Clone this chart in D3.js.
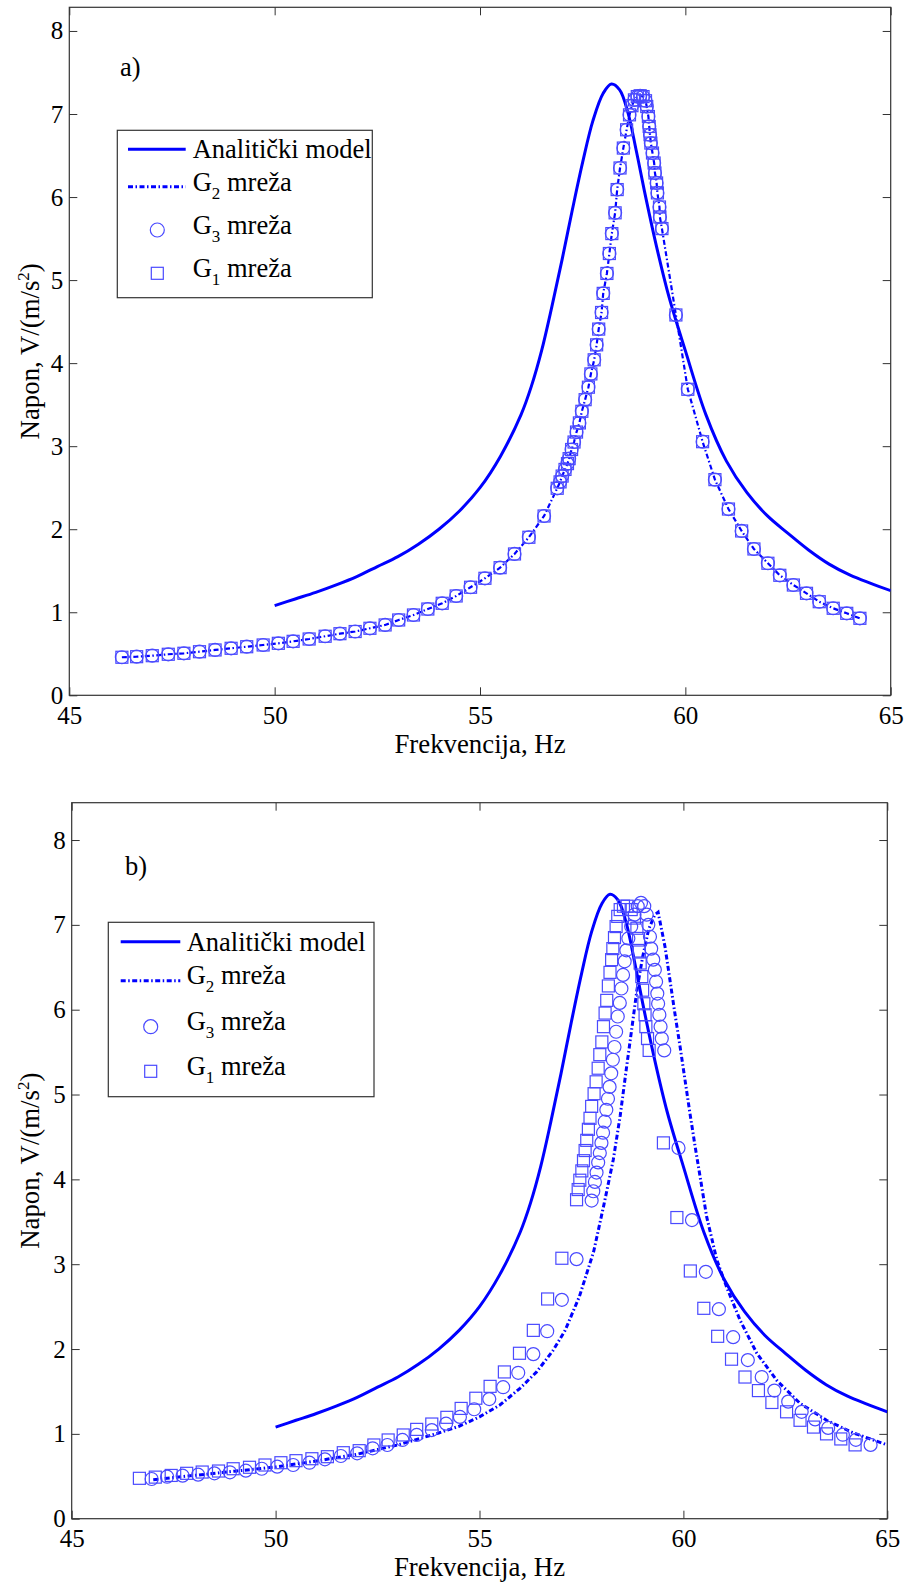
<!DOCTYPE html>
<html><head><meta charset="utf-8">
<script src="https://cdn.jsdelivr.net/npm/d3@7/dist/d3.min.js"></script>
<style>
body{margin:0;background:#fff}
svg{display:block}
text{font-family:"Liberation Serif","Times New Roman",serif;fill:#000}
</style>
</head><body>
<svg id="chart" width="906" height="1587"></svg>
<script>
// ---------- data ----------
const xTickValues = [45, 50, 55, 60, 65];
const yTickValues = [0, 1, 2, 3, 4, 5, 6, 7, 8];
const xLabel = "Frekvencija, Hz";
const panelLabels = ["a)", "b)"];
const legendNames = ["Analitički model", "G2 mreža", "G3 mreža", "G1 mreža"];

// Analytical model (same in both panels)
const analyticF = [50,50.5,51,51.5,52,52.5,53,53.5,54,54.5,55,55.5,56,56.25,56.5,56.75,57,57.25,57.5,57.75,58,58.2,58.4,58.6,58.8,59,59.3,59.6,60,60.5,61,61.5,62,62.5,63,63.5,64,64.5,65];
const analyticV = [1.08,1.16,1.24,1.33,1.43,1.55,1.67,1.82,2.00,2.22,2.50,2.88,3.38,3.72,4.15,4.68,5.25,5.85,6.42,6.92,7.25,7.36,7.29,7.02,6.57,6.08,5.40,4.80,4.15,3.38,2.82,2.44,2.16,1.95,1.75,1.58,1.45,1.35,1.26];

// Panel a: G1, G2, G3 meshes coincide
const meshA_F = [46.28,46.64,47.02,47.41,47.79,48.17,48.55,48.94,49.32,49.72,50.09,50.45,50.84,51.23,51.59,51.96,52.32,52.69,53.02,53.38,53.73,54.08,54.42,54.77,55.12,55.49,55.84,56.19,56.56,56.88,56.95,57.00,57.07,57.13,57.17,57.23,57.29,57.35,57.42,57.48,57.56,57.64,57.70,57.78,57.84,57.89,57.96,58.00,58.09,58.15,58.21,58.29,58.34,58.41,58.49,58.57,58.64,58.70,58.76,58.83,58.90,58.97,59.03,59.06,59.10,59.12,59.14,59.16,59.20,59.24,59.26,59.30,59.32,59.37,59.38,59.43,59.77,60.06,60.42,60.72,61.05,61.37,61.67,62.01,62.30,62.63,62.95,63.26,63.60,63.93,64.25];
const meshA_V = [0.458,0.465,0.477,0.494,0.506,0.525,0.546,0.566,0.585,0.606,0.626,0.650,0.678,0.711,0.742,0.768,0.807,0.847,0.907,0.967,1.039,1.108,1.196,1.301,1.409,1.537,1.702,1.903,2.159,2.493,2.57,2.64,2.72,2.79,2.85,2.96,3.05,3.17,3.28,3.42,3.56,3.71,3.87,4.04,4.22,4.41,4.61,4.84,5.08,5.32,5.56,5.81,6.09,6.35,6.59,6.81,6.99,7.10,7.17,7.21,7.22,7.21,7.16,7.09,6.97,6.85,6.75,6.65,6.53,6.41,6.29,6.17,6.05,5.88,5.76,5.62,4.58,3.685,3.054,2.597,2.243,1.979,1.762,1.590,1.445,1.328,1.228,1.127,1.048,0.987,0.927];

// Panel b: G2 mesh (line)
const g2B_F = [47.0,48,49,50,51,52,53,53.5,54,54.5,55,55.5,56,56.4,56.8,57.1,57.45,57.8,58.05,58.28,58.45,58.6,58.73,58.86,59.0,59.15,59.3,59.38,59.55,59.67,59.79,59.92,60.04,60.16,60.29,60.41,60.57,60.82,61.06,61.39,61.8,62.29,62.86,63.51,64.17,65];
const g2B_V = [0.46,0.51,0.56,0.61,0.68,0.76,0.87,0.94,1.01,1.09,1.20,1.34,1.54,1.73,1.98,2.22,2.62,3.15,3.70,4.23,4.75,5.30,5.76,6.23,6.62,6.95,7.12,7.15,6.74,6.35,5.96,5.56,5.17,4.78,4.38,4.03,3.56,3.05,2.73,2.34,1.95,1.63,1.36,1.16,1.01,0.87];

// Panel b: G3 mesh (circles)
const g3B_F = [46.96,47.34,47.72,48.10,48.50,48.88,49.27,49.66,50.04,50.43,50.83,51.21,51.60,52.00,52.38,52.74,53.11,53.46,53.83,54.18,54.52,54.87,55.24,55.58,55.95,56.32,56.66,57.02,57.38,57.75,57.79,57.83,57.87,57.91,57.95,57.99,58.03,58.07,58.11,58.15,58.19,58.23,58.27,58.31,58.35,58.39,58.44,58.48,58.52,58.56,58.60,58.65,58.72,58.80,58.88,58.96,59.04,59.10,59.14,59.18,59.21,59.26,59.30,59.33,59.36,59.38,59.41,59.44,59.47,59.53,59.88,60.21,60.55,60.87,61.22,61.58,61.92,62.23,62.57,62.90,63.23,63.55,63.91,64.23,64.59];
const g3B_V = [0.468,0.495,0.507,0.519,0.535,0.547,0.566,0.589,0.613,0.633,0.660,0.700,0.739,0.771,0.830,0.869,0.928,0.987,1.045,1.12,1.20,1.29,1.41,1.55,1.72,1.94,2.21,2.58,3.06,3.75,3.86,3.97,4.08,4.20,4.31,4.43,4.55,4.68,4.82,4.95,5.09,5.25,5.41,5.56,5.74,5.92,6.08,6.25,6.41,6.57,6.70,6.84,6.98,7.12,7.22,7.26,7.22,7.12,7.00,6.86,6.72,6.59,6.47,6.33,6.19,6.07,5.94,5.80,5.66,5.52,4.37,3.52,2.91,2.47,2.14,1.87,1.67,1.51,1.38,1.26,1.17,1.07,0.99,0.93,0.87];

// Panel b: G1 mesh (squares)
const g1B_F = [46.66,47.05,47.44,47.82,48.20,48.60,48.96,49.36,49.74,50.13,50.50,50.89,51.27,51.66,52.05,52.41,52.76,53.13,53.46,53.83,54.20,54.55,54.91,55.26,55.61,55.98,56.32,56.67,57.02,57.38,57.42,57.46,57.51,57.55,57.59,57.63,57.67,57.71,57.75,57.81,57.86,57.91,57.95,58.00,58.04,58.08,58.12,58.16,58.20,58.24,58.27,58.31,58.35,58.39,58.45,58.53,58.62,58.72,58.80,58.86,58.90,58.92,58.94,58.98,59.00,59.03,59.06,59.08,59.12,59.16,59.51,59.84,60.17,60.50,60.84,61.18,61.51,61.84,62.17,62.53,62.86,63.19,63.51,63.86,64.21];
const g1B_V = [0.476,0.49,0.51,0.535,0.55,0.562,0.589,0.606,0.633,0.66,0.684,0.707,0.731,0.778,0.802,0.869,0.928,0.987,1.053,1.116,1.195,1.30,1.42,1.56,1.73,1.95,2.22,2.59,3.07,3.76,3.88,3.99,4.10,4.22,4.34,4.46,4.59,4.72,4.86,5.01,5.15,5.31,5.47,5.62,5.80,5.96,6.11,6.28,6.44,6.59,6.72,6.85,6.98,7.10,7.18,7.22,7.22,7.18,7.08,6.96,6.84,6.68,6.55,6.39,6.23,6.07,5.94,5.80,5.66,5.52,4.43,3.55,2.92,2.48,2.15,1.88,1.67,1.51,1.37,1.26,1.16,1.08,1.00,0.94,0.87];

// ---------- drawing ----------
const svg = d3.select("#chart");
const BLUE = "#0000ff";
const MARK = "#4a4aff";
const AXIS = "#333";
const FONT = '"Liberation Serif", "Times New Roman", serif';
const zip = (f, v) => f.map((d, i) => ({f: d, v: v[i]}));

const panels = [
  {left: 69.3, right: 890.7, top: 7.3, bottom: 695.3, yMax: 8.285,
   label: panelLabels[0], labelPos: [120, 76],
   legend: {box: [117.3, 130.3, 372.3, 297.7], lineX: [128, 185.7], markX: 157.3, textX: 192.7,
            lineY: [149.3, 186.7, 230, 273.3], baseY: [157.7, 190.7, 234, 277.3]},
   analytic: zip(analyticF, analyticV), g2: zip(meshA_F, meshA_V),
   g3: zip(meshA_F, meshA_V), g1: zip(meshA_F, meshA_V), g2w: 2.2},
  {left: 71.7, right: 887.3, top: 802.7, bottom: 1518.7, yMax: 8.44,
   label: panelLabels[1], labelPos: [125, 875],
   legend: {box: [108.3, 922.3, 374, 1096.7], lineX: [120.7, 180.3], markX: 150.7, textX: 186.7,
            lineY: [941.7, 980.7, 1026.7, 1071.3], baseY: [951, 984, 1030, 1075]},
   analytic: zip(analyticF, analyticV), g2: zip(g2B_F, g2B_V),
   g3: zip(g3B_F, g3B_V), g1: zip(g1B_F, g1B_V), g2w: 3}
];

function labelWithSub(sel, name, subSize) {
  sel.append("tspan").text(name[0]);
  sel.append("tspan").attr("dy", 8).attr("font-size", subSize).text(name[1]);
  sel.append("tspan").attr("dy", -8).text(name.slice(2));
}

panels.forEach((p, pi) => {
  const x = d3.scaleLinear().domain([45, 65]).range([p.left, p.right]);
  const y = d3.scaleLinear().domain([0, p.yMax]).range([p.bottom, p.top]);
  const g = svg.append("g");
  const clipId = "clip" + pi;
  g.append("clipPath").attr("id", clipId).append("rect")
    .attr("x", p.left).attr("y", p.top).attr("width", p.right - p.left).attr("height", p.bottom - p.top);

  const ax = (axis, tr) => {
    const a = g.append("g").attr("transform", tr).call(axis);
    a.select(".domain").remove();
    a.selectAll("line").attr("stroke", AXIS).attr("stroke-width", 1);
    a.selectAll("text").attr("font-size", 25).attr("font-family", FONT).attr("fill", "#000");
    return a;
  };
  ax(d3.axisBottom(x).tickValues(xTickValues).tickSize(-8).tickPadding(11).tickFormat(d3.format("d")), `translate(0,${p.bottom})`);
  ax(d3.axisTop(x).tickValues(xTickValues).tickSize(-8).tickFormat(""), `translate(0,${p.top})`);
  ax(d3.axisLeft(y).tickValues(yTickValues).tickSize(-8).tickPadding(6).tickFormat(d3.format("d")), `translate(${p.left},0)`);
  ax(d3.axisRight(y).tickValues(yTickValues).tickSize(-8).tickFormat(""), `translate(${p.right},0)`);
  g.append("rect").attr("x", p.left).attr("y", p.top).attr("width", p.right - p.left)
    .attr("height", p.bottom - p.top).attr("fill", "none").attr("stroke", AXIS).attr("stroke-width", 1.2);

  g.append("text").attr("x", (p.left + p.right) / 2).attr("y", p.bottom + 57.5)
    .attr("text-anchor", "middle").attr("font-size", 26.8).text(xLabel);
  const yl = g.append("text").attr("transform", `translate(38.5,${(p.top + p.bottom) / 2}) rotate(-90)`)
    .attr("text-anchor", "middle").attr("font-size", 26.8);
  yl.append("tspan").text("Napon, V/(m/s");
  yl.append("tspan").attr("dy", -10).attr("font-size", 17).text("2");
  yl.append("tspan").attr("dy", 10).text(")");

  g.append("text").attr("x", p.labelPos[0]).attr("y", p.labelPos[1]).attr("font-size", 26.5).text(p.label);

  const data = g.append("g").attr("clip-path", `url(#${clipId})`);

  data.append("path").datum(p.analytic).attr("fill", "none").attr("stroke", BLUE).attr("stroke-width", 3)
    .attr("d", d3.line().x(d => x(d.f)).y(d => y(d.v)).curve(d3.curveCatmullRom.alpha(0.5)));
  data.append("path").datum(p.g2).attr("fill", "none").attr("stroke", BLUE).attr("stroke-width", p.g2w)
    .attr("stroke-dasharray", "5,2.5,1.5,2.5")
    .attr("d", d3.line().x(d => x(d.f)).y(d => y(d.v)).curve(d3.curveLinear));
  data.selectAll("circle.g3").data(p.g3).join("circle").attr("class", "g3")
    .attr("cx", d => x(d.f)).attr("cy", d => y(d.v)).attr("r", 6.5)
    .attr("fill", "none").attr("stroke", MARK).attr("stroke-width", 1.2);
  data.selectAll("rect.g1").data(p.g1).join("rect").attr("class", "g1")
    .attr("x", d => x(d.f) - 6).attr("y", d => y(d.v) - 6).attr("width", 12).attr("height", 12)
    .attr("fill", "none").attr("stroke", MARK).attr("stroke-width", 1.2);

  const L = p.legend;
  const lg = g.append("g");
  lg.append("rect").attr("x", L.box[0]).attr("y", L.box[1]).attr("width", L.box[2] - L.box[0])
    .attr("height", L.box[3] - L.box[1]).attr("fill", "#fff").attr("stroke", AXIS).attr("stroke-width", 1.2);
  lg.append("line").attr("x1", L.lineX[0]).attr("x2", L.lineX[1]).attr("y1", L.lineY[0]).attr("y2", L.lineY[0])
    .attr("stroke", BLUE).attr("stroke-width", 3);
  lg.append("line").attr("x1", L.lineX[0]).attr("x2", L.lineX[1]).attr("y1", L.lineY[1]).attr("y2", L.lineY[1])
    .attr("stroke", BLUE).attr("stroke-width", 3).attr("stroke-dasharray", "5,2.5,1.5,2.5");
  lg.append("circle").attr("cx", L.markX).attr("cy", L.lineY[2]).attr("r", 7)
    .attr("fill", "none").attr("stroke", MARK).attr("stroke-width", 1.2);
  lg.append("rect").attr("x", L.markX - 6).attr("y", L.lineY[3] - 6).attr("width", 12).attr("height", 12)
    .attr("fill", "none").attr("stroke", MARK).attr("stroke-width", 1.2);
  lg.append("text").attr("x", L.textX).attr("y", L.baseY[0]).attr("font-size", 26.5).text(legendNames[0]);
  [1, 2, 3].forEach(i => {
    const t = lg.append("text").attr("x", L.textX).attr("y", L.baseY[i]).attr("font-size", 26.5);
    labelWithSub(t, legendNames[i], 17);
  });
});
</script>
</body></html>
